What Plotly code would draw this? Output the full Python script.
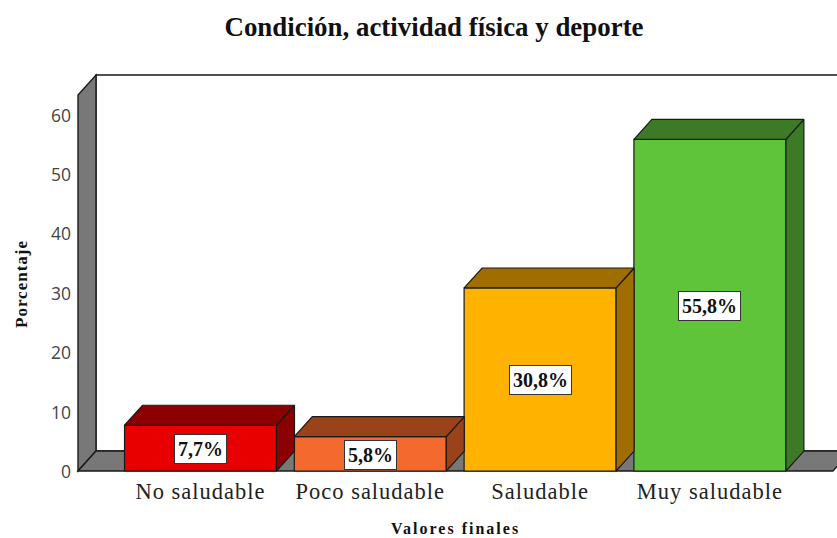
import plotly.graph_objects as go

categories = ["No saludable", "Poco saludable", "Saludable", "Muy saludable"]
values = [7.7, 5.8, 30.8, 55.8]
value_labels = ["7,7%", "5,8%", "30,8%", "55,8%"]
y_ticks = [0, 10, 20, 30, 40, 50, 60]

front_colors = ["#E80000", "#F46A2E", "#FFB300", "#5FC43A"]
shade_colors = ["#8B0000", "#9A421A", "#A06E00", "#3C7A25"]
wall_color = "#787878"
edge_color = "#1A1A1A"

serif = "Liberation Serif"

# pixel scale of the chart, the fake 3d depth is worked out from it
px_x = 169.8
px_y = 5.95
depth_x = 18 / px_x
depth_y = 20 / px_y
bar_width = 0.895
x_min = -122.5 / px_x
x_max = (837 - 200.5) / px_x
y_top = 60 + 19.5 / px_y  # front edge of the side wall
floor_end = (833 - 200.5) / px_x

width = 837
height = 538
margin_l = 76
margin_t = 73
margin_b = 65


def polygon(xs, ys, color):
    return go.Scatter(
        x=xs + xs[:1],
        y=ys + ys[:1],
        mode="lines",
        fill="toself",
        fillcolor=color,
        line=dict(color=edge_color, width=1.2),
        hoverinfo="skip",
        showlegend=False,
    )


def wall(xs, ys, color):
    path = "M " + " L ".join(f"{x},{y}" for x, y in zip(xs, ys)) + " Z"
    return dict(
        type="path",
        path=path,
        xref="x",
        yref="y",
        layer="below",
        fillcolor=color,
        line=dict(color=edge_color, width=1.4),
    )


def paper_x(px):
    return (px - margin_l) / (width - margin_l)


def paper_y(px):
    return (height - margin_b - px) / (height - margin_b - margin_t)


fig = go.Figure()

fig.add_trace(
    go.Bar(
        x=list(range(len(categories))),
        y=values,
        width=bar_width,
        marker=dict(color=front_colors, line=dict(color=edge_color, width=1.2)),
        hoverinfo="skip",
        showlegend=False,
    )
)

for i, v in enumerate(values):
    left = i - bar_width / 2
    right = i + bar_width / 2
    fig.add_trace(
        polygon(
            [right, right + depth_x, right + depth_x, right],
            [0, depth_y, v + depth_y, v],
            shade_colors[i],
        )
    )
    fig.add_trace(
        polygon(
            [left, left + depth_x, right + depth_x, right],
            [v, v + depth_y, v + depth_y, v],
            shade_colors[i],
        )
    )

shapes = [
    # back wall
    wall(
        [x_min + depth_x, x_max + 1, x_max + 1, x_min + depth_x],
        [depth_y, depth_y, y_top + depth_y, y_top + depth_y],
        "white",
    ),
    # side wall
    wall(
        [x_min, x_min + depth_x, x_min + depth_x, x_min],
        [0, depth_y, y_top + depth_y, y_top],
        wall_color,
    ),
    # floor
    wall(
        [x_min, x_min + depth_x, floor_end + depth_x, floor_end],
        [0, depth_y, depth_y, 0],
        wall_color,
    ),
]

annotations = [
    dict(
        x=i,
        y=v / 2,
        xref="x",
        yref="y",
        yshift=-1,
        text=f"<b>{value_labels[i]}</b>",
        showarrow=False,
        font=dict(family=serif, size=20, color="#111111"),
        bgcolor="white",
        bordercolor="#333333",
        borderwidth=1,
        borderpad=3,
    )
    for i, v in enumerate(values)
]
annotations.append(
    dict(
        x=paper_x(455),
        y=paper_y(528.5),
        xref="paper",
        yref="paper",
        xanchor="center",
        yanchor="middle",
        text="<b>Valores finales</b>",
        showarrow=False,
        font=dict(family=serif, size=16, color="#111111"),
    )
)
annotations.append(
    dict(
        x=paper_x(21),
        y=paper_y(284),
        xref="paper",
        yref="paper",
        xanchor="center",
        yanchor="middle",
        text="<b>Porcentaje</b>",
        textangle=-90,
        showarrow=False,
        font=dict(family=serif, size=17, color="#111111"),
    )
)

fig.update_layout(
    width=width,
    height=height,
    margin=dict(l=margin_l, r=0, t=margin_t, b=margin_b, autoexpand=False),
    paper_bgcolor="white",
    plot_bgcolor="white",
    title=dict(
        text="<b>Condición, actividad física y deporte</b>",
        x=434 / width,
        xanchor="center",
        y=1 - 27 / height,
        yanchor="middle",
        font=dict(family=serif, size=26.9, color="#111111"),
    ),
    shapes=shapes,
    annotations=annotations,
)

fig.update_xaxes(
    range=[x_min - 2 / px_x, x_max],
    tickmode="array",
    tickvals=list(range(len(categories))),
    ticktext=categories,
    tickfont=dict(family=serif, size=22.5, color="#222222"),
    ticks="",
    ticklabelstandoff=2,
    showgrid=False,
    zeroline=False,
    showline=False,
)

fig.update_yaxes(
    range=[-2 / px_y, y_top + depth_y + 2 / px_y],
    tickmode="array",
    tickvals=y_ticks,
    tickfont=dict(family="Open Sans", size=17.5, color="#444444"),
    ticks="",
    ticklabelstandoff=4,
    ticklabelshift=1,
    showgrid=False,
    zeroline=False,
    showline=False,
)

# the original text is spaced wider than any installed serif
post_script = """
document.body.style.margin = '0';
document.querySelectorAll('.xtick text').forEach(t => { t.style.letterSpacing = '1px'; });
document.querySelectorAll('.annotation[data-index="4"] text').forEach(t => { t.style.letterSpacing = '2px'; });
document.querySelectorAll('.annotation[data-index="5"] text').forEach(t => { t.style.letterSpacing = '1px'; });
"""

fig.write_html(
    "out.html",
    config={"displayModeBar": False},
    post_script=post_script,
)
